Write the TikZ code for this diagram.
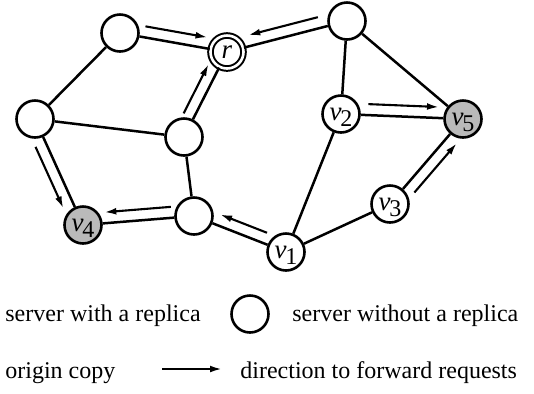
\documentclass[tikz,border=0pt]{standalone}
\usepackage{fontspec}
\setmainfont{Liberation Serif}
\usetikzlibrary{arrows.meta,calc}
\newcommand{\vlab}[1]{\textit{v}\kern-0.6pt\smash{\raisebox{-3.3pt}{\fontsize{12}{12}\selectfont #1}}}

\begin{document}
\begin{tikzpicture}[x=0.5pt,y=-0.5pt,
srv/.style={circle,draw,line width=1.3pt,minimum size=18.5pt,inner sep=0pt,font=\fontsize{13.5}{13.5}\selectfont},
rep/.style={srv,fill=black!27},
orig/.style={srv,double,line width=1pt,double distance=1.3pt,minimum size=16.5pt},
edge/.style={line width=1.25pt},
fwd/.style={-{Latex[length=6pt,width=3.4pt]},line width=1.05pt},
lbl/.style={anchor=west,inner sep=0pt,font=\fontsize{12}{14}\selectfont}]
\useasboundingbox (0,0) rectangle (534,393);
\node[srv] (s1) at (120,33) {};
\node[orig] (r) at (227,52) {\textit{r}};
\node[srv] (s2) at (347,21) {};
\node[srv] (s3) at (35,119) {};
\node[srv] (s4) at (184,137) {};
\node[srv] (v2) at (341,114) {\vlab{2}};
\node[rep] (v5) at (463,119) {\vlab{5}};
\node[srv] (v3) at (390,204) {\vlab{3}};
\node[srv] (s5) at (194,216) {};
\node[rep] (v4) at (83,225) {\vlab{4}};
\node[srv] (v1) at (286,252) {\vlab{1}};
\draw[edge] (s1) -- (r);
\draw[edge] (s2) -- (r);
\draw[edge] (s1) -- (s3);
\draw[edge] (s3) -- (s4);
\draw[edge] (s3) -- (v4);
\draw[edge] (s4) -- (r);
\draw[edge] (s4) -- (s5);
\draw[edge] (s5) -- (v4);
\draw[edge] (v1) -- (s5);
\draw[edge] (s2) -- (v2);
\draw[edge] (s2) -- (v5);
\draw[edge] (v2) -- (v5);
\draw[edge] (v2) -- (v1);
\draw[edge] (v1) -- (v3);
\draw[edge] (v3) -- (v5);
\draw[fwd] ($(s1)!0.22!(r)!5.5pt!90:(r)$) -- ($(s1)!0.8!(r)!5.5pt!90:(r)$);
\draw[fwd] ($(s2)!0.22!(r)!5.5pt!-90:(r)$) -- ($(s2)!0.8!(r)!5.5pt!-90:(r)$);
\draw[fwd] ($(s4)!0.22!(r)!5.5pt!90:(r)$) -- ($(s4)!0.8!(r)!5.5pt!90:(r)$);
\draw[fwd] ($(s3)!0.22!(v4)!5.5pt!-90:(v4)$) -- ($(s3)!0.8!(v4)!5.5pt!-90:(v4)$);
\draw[fwd] ($(s5)!0.2!(v4)!5.5pt!-90:(v4)$) -- ($(s5)!0.8!(v4)!5.5pt!-90:(v4)$);
\draw[fwd] ($(v1)!0.25!(s5)!5.5pt!-90:(s5)$) -- ($(v1)!0.76!(s5)!5.5pt!-90:(s5)$);
\draw[fwd] ($(v2)!0.22!(v5)!5.5pt!90:(v5)$) -- ($(v2)!0.8!(v5)!5.5pt!90:(v5)$);
\draw[fwd] ($(v3)!0.22!(v5)!5.5pt!-90:(v5)$) -- ($(v3)!0.8!(v5)!5.5pt!-90:(v5)$);
\node[lbl] (withrep) at (5,316) {server with a replica};
\node[srv] (legsrv) at (250,314) {};
\node[lbl] (norep) at (292,316) {server without a replica};
\node[lbl] (origin) at (5,373) {origin copy};
\coordinate (legA) at (162,369);
\coordinate (legB) at (222,369);
\draw[fwd] (legA) -- (legB);
\node[lbl] (fwdreq) at (240,373) {direction to forward requests};
\end{tikzpicture}
\end{document}
